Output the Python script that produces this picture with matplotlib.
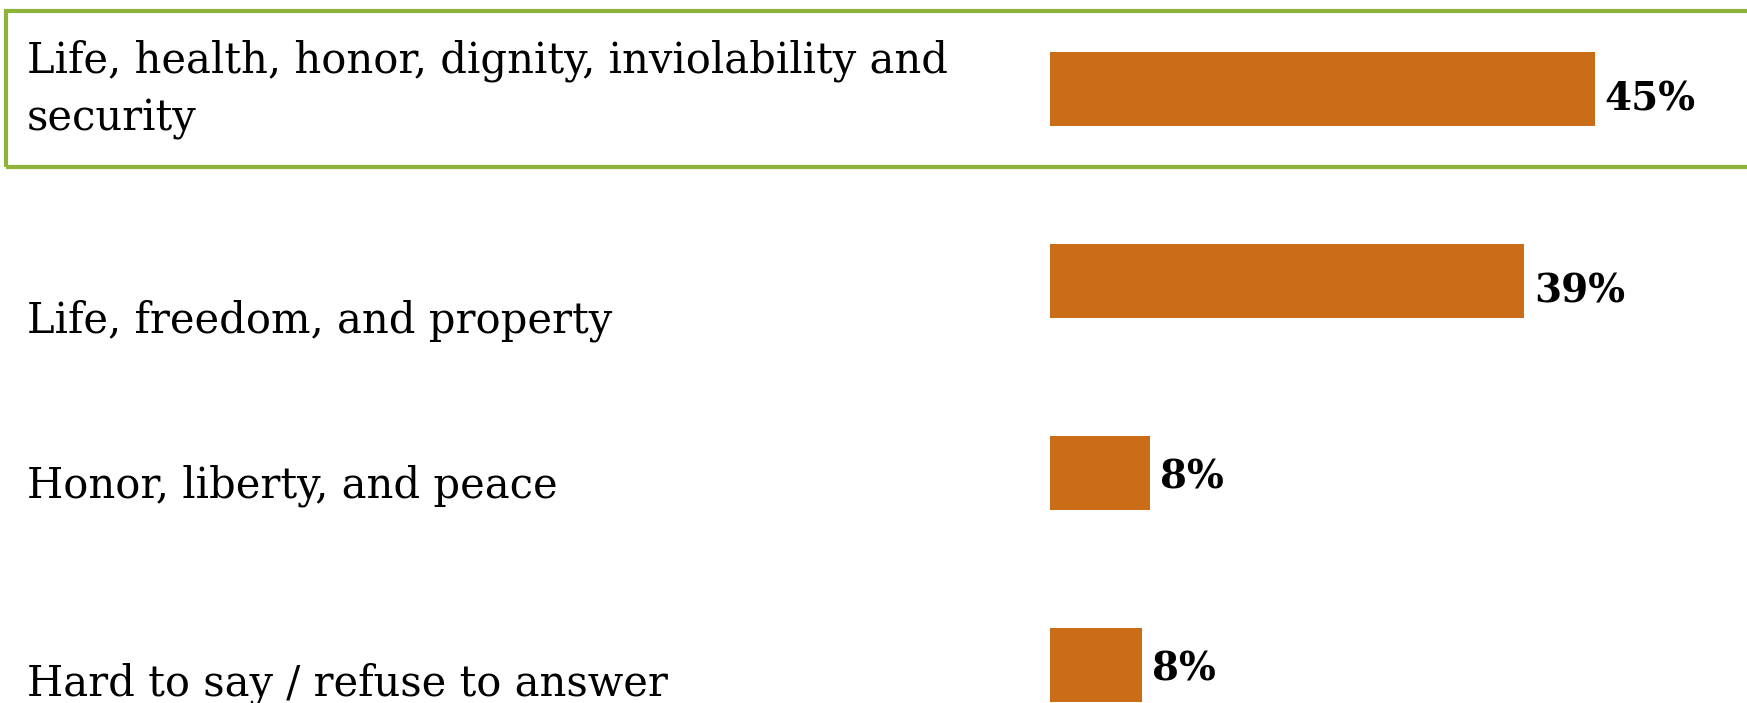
import matplotlib
matplotlib.use('Agg')
import matplotlib.pyplot as plt
from matplotlib.patches import Rectangle
import matplotlib.transforms as mtransforms

# data
categories = ['Life, health, honor, dignity, inviolability and\nsecurity',
              'Life, freedom, and property',
              'Honor, liberty, and peace',
              'Hard to say / refuse to answer']
values = [45, 39.2, 8.3, 7.6]
value_labels = ['45%', '39%', '8%', '8%']

# baseline offsets (rows) for labels, measured on the picture
label_dy = [0.215, 0.27, 0.13, 0.16]
value_dy = [0.11, 0.11, 0.08, 0.08]

bar_color = '#CB6C19'
box_color = '#8DB33A'

W, H, DPI = 1747, 703, 100
fig = plt.figure(figsize=(W / DPI, H / DPI), dpi=DPI)
ax = fig.add_axes([0, 0, 1, 1])

px_per_pct = 12.1
x0 = 1050
ax.set_xlim(-x0 / px_per_pct, (W - x0) / px_per_pct)
row = 192.0
ax.set_ylim((H - 89) / row, -89 / row)
ax.axis('off')

ypos = list(range(len(values)))
ax.barh(ypos, values, height=0.385, color=bar_color, edgecolor='none')

trans = mtransforms.blended_transform_factory(ax.transAxes, ax.transData)
font = 'DejaVu Serif'
for i, lab in enumerate(categories):
    ax.text(27 / W, ypos[i] + label_dy[i], lab, transform=trans, ha='left',
            va='baseline', fontsize=30, family=font, linespacing=1.47)

for i, v in enumerate(values):
    ax.text(v + 10 / px_per_pct, ypos[i] + value_dy[i], value_labels[i],
            ha='left', va='baseline', fontsize=28, family=font, fontweight='bold')

# green box round the first row
box = Rectangle((5.5 / W, 1 - 167 / H), 1.2, (167 - 11) / H, transform=ax.transAxes,
                fill=False, edgecolor=box_color, linewidth=3, clip_on=False)
ax.add_patch(box)

fig.savefig('out.png', dpi=DPI)
